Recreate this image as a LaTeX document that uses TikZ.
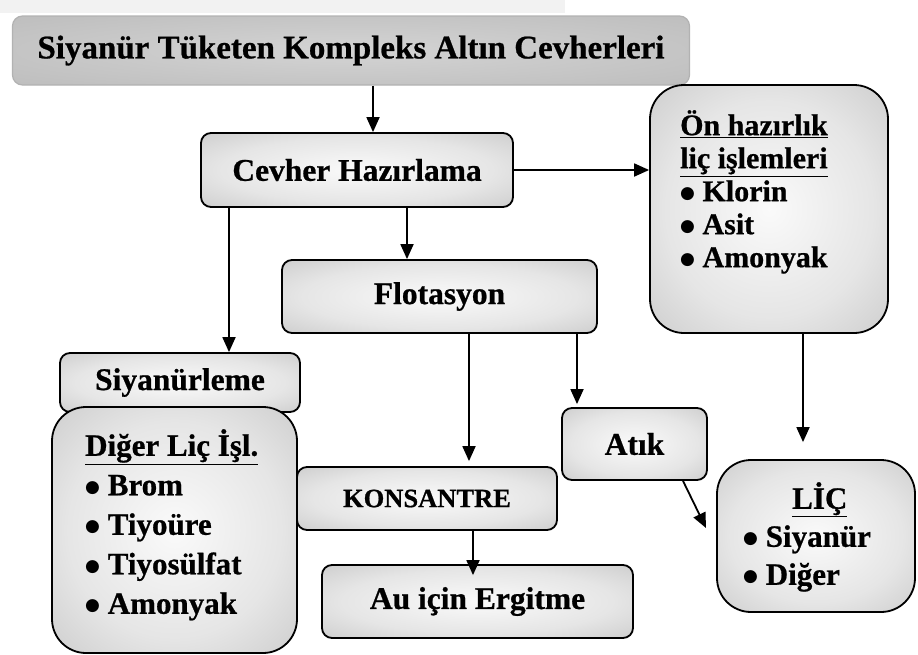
\documentclass[tikz,border=0pt]{standalone}
\usepackage{fontspec}
\setmainfont[BoldFeatures={FakeBold=0.7}]{Liberation Serif}
\newfontfamily\bulfont{DejaVu Sans}
\usetikzlibrary{arrows.meta,calc}
\pgfdeclareradialshading{boxsh}{\pgfpoint{0bp}{0bp}}{color(0bp)=(gray!4); color(22bp)=(gray!20); color(50bp)=(gray!58)}
\pgfdeclareradialshading{titlesh}{\pgfpoint{0bp}{0bp}}{color(0bp)=(gray!34); color(50bp)=(gray!58)}
\newcommand\bul{\raisebox{3pt}{\bulfont\fontsize{17}{20}\selectfont ●}\ }
\begin{document}
\begin{tikzpicture}[x=1pt,y=-1pt,
  box/.style={draw=black, line width=1.8pt, rounded corners=10pt, shade, shading=boxsh, inner sep=0pt, font=\bfseries\fontsize{31.5}{36}\selectfont},
  bigbox/.style={box, rounded corners=34pt},
  arr/.style={line width=1.8pt, -{Triangle[length=15pt,width=13pt]}},
  lst/.style={anchor=north west, align=left, inner sep=0pt}
]
\useasboundingbox (0,0) rectangle (918,654);
\fill[gray!10] (0,0) rectangle (565,13);
% boxes
\node[box, draw=gray!60, line width=1.2pt, shading=titlesh, minimum width=677pt, minimum height=69pt, font=\bfseries\fontsize{33}{38}\selectfont] (title) at (351,50.5) {Siyanür Tüketen Kompleks Altın Cevherleri};
\node[box, minimum width=312pt, minimum height=74pt] (cev) at (357,170) {Cevher Hazırlama};
\node[box, minimum width=315pt, minimum height=73pt] (flot) at (439.5,296.5) {Flotasyon};
\node[bigbox, minimum width=238pt, minimum height=248pt] (on) at (769,209) {};
\node[box, minimum width=240pt, minimum height=59pt] (siy) at (180,382.5) {Siyanürleme};
\node[bigbox, minimum width=245pt, minimum height=246pt] (dig) at (174.5,530) {};
\node[box, minimum width=145pt, minimum height=72pt] (atik) at (634.5,444) {Atık};
\node[box, minimum width=260pt, minimum height=63pt, font=\bfseries\fontsize{26.5}{30}\selectfont] (kons) at (427,498.5) {KONSANTRE};
\node[box, minimum width=311pt, minimum height=73pt] (au) at (477.5,601.5) {Au için Ergitme};
\node[bigbox, minimum width=198pt, minimum height=152pt] (lic) at (816,536) {};
% list texts
\node[lst, font=\bfseries\fontsize{30}{33}\selectfont] (onT) at (680,110) {\underline{Ön hazırlık}\\\underline{liç işlemleri}\\\bul Klorin\\\bul Asit\\\bul Amonyak};
\node[lst, font=\bfseries\fontsize{31}{39.5}\selectfont] (digT) at (85,429) {\underline{Diğer Liç İşl.}\\\bul Brom\\\bul Tiyoüre\\\bul Tiyosülfat\\\bul Amonyak};
\node[lst, font=\bfseries\fontsize{31}{38}\selectfont] (licT) at (743,482) {\hspace*{49pt}\underline{LİÇ}\\\bul Siyanür\\\bul Diğer};
% connectors
\coordinate (licIn) at (706,528);
\draw[arr] (title.south -| 373,0) -- (cev.north -| 373,0);
\draw[arr] (cev.south -| 407,0) -- (flot.north -| 407,0);
\draw[arr] (cev.south -| 229,0) -- (siy.north -| 229,0);
\draw[arr] (cev.east) -- (on.west |- cev.east);
\draw[arr, shorten >=5pt] (flot.south -| 469,0) -- (kons.north -| 469,0);
\draw[arr, shorten >=3pt] (flot.south -| 577,0) -- (atik.north -| 577,0);
\draw[arr, shorten >=17pt] (on.south -| 803,0) -- (lic.north -| 803,0);
\draw[arr] (atik.south -| 683,0) -- (licIn);
\draw[arr, shorten >=-11pt] (kons.south -| 473,0) -- (au.north -| 473,0);
\end{tikzpicture}
\end{document}
